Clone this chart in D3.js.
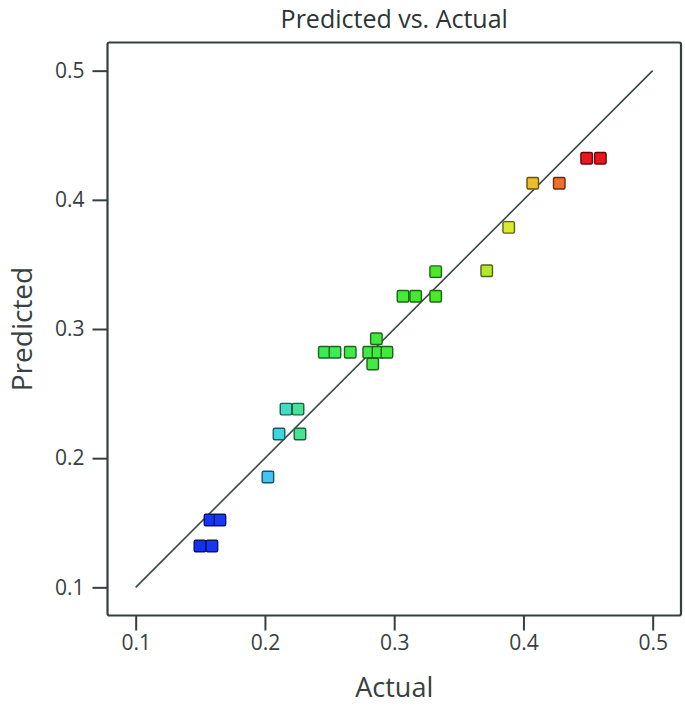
<!DOCTYPE html>
<html>
<head>
<meta charset="utf-8">
<script src="https://cdn.jsdelivr.net/npm/d3@7/dist/d3.min.js"></script>
<style>
  html, body { margin: 0; padding: 0; background: #ffffff; }
  svg { display: block; }
</style>
</head>
<body>
<script>
// ---- data ----
const actual = [0.1497, 0.1590, 0.1575, 0.1652, 0.2023, 0.2109, 0.2271, 0.2163, 0.2256,
                0.2459, 0.2542, 0.2660, 0.2803, 0.2875, 0.2944, 0.2862, 0.2834,
                0.3068, 0.3166, 0.3321, 0.3321, 0.3716, 0.3886, 0.4072, 0.4277, 0.4489, 0.4595];
const predicted = [0.1320, 0.1320, 0.1521, 0.1521, 0.1854, 0.2187, 0.2187, 0.2380, 0.2380,
                   0.2820, 0.2820, 0.2820, 0.2820, 0.2820, 0.2820, 0.2924, 0.2729,
                   0.3254, 0.3254, 0.3254, 0.3444, 0.3451, 0.3787, 0.4128, 0.4128, 0.4322, 0.4322];
const xTicks = [0.1, 0.2, 0.3, 0.4, 0.5];
const yTicks = [0.1, 0.2, 0.3, 0.4, 0.5];
const identityLine = [0.1, 0.5];
const colorStops = [0.15, 0.17, 0.20, 0.212, 0.222, 0.24, 0.33, 0.37, 0.39, 0.41, 0.43, 0.45];
const colorRange = ["#1530f5", "#1a3af5", "#46bff2", "#3cd8dc", "#48e0a8", "#40ea58", "#44ea2a",
                    "#b0e82c", "#dcec2c", "#f0b42c", "#f0642c", "#e8141e"];

const W = 685, H = 708;
const pL = 107.5, pR = 681, pT = 42.5, pB = 615.5;
const font = "'Open Sans', 'Noto Sans', sans-serif";
const ink = "#34403f";
const textCol = "#384040";

const svg = d3.select("body").append("svg").attr("width", W).attr("height", H);

const x = d3.scaleLinear().domain([0.0782, 0.5219]).range([pL, pR]);
const y = d3.scaleLinear().domain([0.0782, 0.5218]).range([pB, pT]);
const color = d3.scaleLinear().domain(colorStops).range(colorRange).clamp(true);

// title
svg.append("text").attr("x", (pL + pR) / 2).attr("y", 28)
  .attr("text-anchor", "middle").attr("font-family", font).attr("font-size", 25)
  .attr("fill", "#2c3434").text("Predicted vs. Actual");

// axes
const xAxis = d3.axisBottom(x).tickValues(xTicks).tickSize(15).tickPadding(5).tickFormat(d3.format(".1f"));
const gx = svg.append("g").attr("transform", `translate(0,${pB})`).call(xAxis);
const yAxis = d3.axisLeft(y).tickValues(yTicks).tickSize(15).tickPadding(8).tickFormat(d3.format(".1f"));
const gy = svg.append("g").attr("transform", `translate(${pL},0)`).call(yAxis);
[gx, gy].forEach(g => {
  g.select(".domain").remove();
  g.selectAll(".tick line").attr("stroke", ink).attr("stroke-width", 2);
  g.selectAll(".tick text").attr("font-family", font).attr("font-size", 21).attr("fill", textCol);
});

// frame
svg.append("rect").attr("x", pL).attr("y", pT).attr("width", pR - pL).attr("height", pB - pT)
  .attr("rx", 2).attr("fill", "none").attr("stroke", ink).attr("stroke-width", 2.2);

// identity line
svg.append("line")
  .attr("x1", x(identityLine[0])).attr("y1", y(identityLine[0]))
  .attr("x2", x(identityLine[1])).attr("y2", y(identityLine[1]))
  .attr("stroke", "#3a4848").attr("stroke-width", 1.6);

// points
const pts = actual.map((a, i) => ({a, p: predicted[i]}));
const s = 11.5;
svg.append("g").selectAll("rect").data(pts).join("rect")
  .attr("x", d => x(d.a) - s / 2).attr("y", d => y(d.p) - s / 2)
  .attr("width", s).attr("height", s).attr("rx", 1.5)
  .attr("fill", d => color(d.a))
  .attr("stroke", d => d3.color(color(d.a)).darker(2.4))
  .attr("stroke-width", 1.4);

// axis titles
svg.append("text").attr("x", (pL + pR) / 2).attr("y", 697)
  .attr("text-anchor", "middle").attr("font-family", font).attr("font-size", 27)
  .attr("fill", textCol).text("Actual");
svg.append("text").attr("transform", `translate(32,${(pT + pB) / 2}) rotate(-90)`)
  .attr("text-anchor", "middle").attr("font-family", font).attr("font-size", 28)
  .attr("fill", textCol).text("Predicted");
</script>
</body>
</html>
